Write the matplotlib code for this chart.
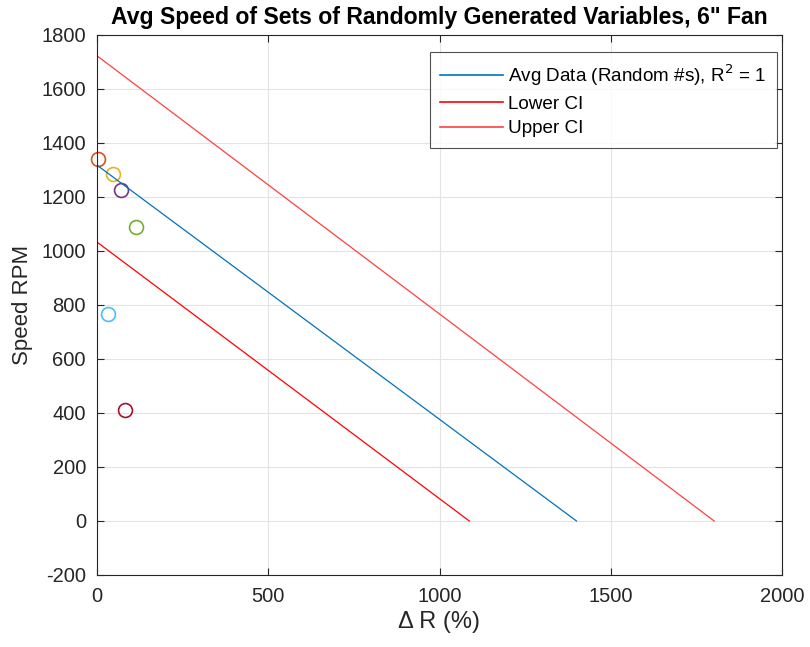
import numpy as np
import matplotlib.pyplot as plt

plt.rcParams['font.family'] = ['Liberation Sans', 'DejaVu Sans']
plt.rcParams['axes.unicode_minus'] = False

# fit lines (x at y=0, y at x=0)
avg_x = [0, 1400]
avg_y = [1318, 0]
lower_x = [0, 1087]
lower_y = [1033, 0]
upper_x = [0, 1802]
upper_y = [1723, 0]

# data points
pt_x = [2, 47, 70, 114, 31, 82]
pt_y = [1340, 1284, 1226, 1088, 766, 411]
pt_colors = ['#D95319', '#EDB120', '#7E2F8E', '#77AC30', '#4DBEEE', '#A2142F']

fig = plt.figure(figsize=(8.1, 6.47), dpi=100)
ax = fig.add_axes([97/810, 1 - 575/647, 685/810, 540/647])

for x, y, c in zip(pt_x, pt_y, pt_colors):
    ax.plot(x, y, 'o', mfc='none', mec=c, ms=10, mew=1.2, clip_on=False)

ax.plot(avg_x, avg_y, color='#0072BD', lw=0.9, label='Avg Data (Random #s), R$^2$ = 1')
ax.plot(lower_x, lower_y, color='#FF0000', lw=0.9, label='Lower CI')
ax.plot(upper_x, upper_y, color='#FF4040', lw=0.9, label='Upper CI')

ax.set_xlim(0, 2000)
ax.set_ylim(-200, 1800)
ax.set_xticks(np.arange(0, 2001, 500))
ax.set_yticks(np.arange(-200, 1801, 200))
ax.grid(True, color='#E3E3E3', lw=0.8)
ax.set_axisbelow(True)
ax.tick_params(direction='in', top=True, right=True, labelsize=14.5,
               colors='#262626', length=5)
ax.tick_params(axis='x', pad=9)
ax.tick_params(axis='y', pad=8)
for s in ax.spines.values():
    s.set_color('#262626')
    s.set_linewidth(0.8)

ax.set_xlabel('Δ R (%)', fontsize=17, color='#262626', labelpad=3)
ax.set_ylabel('Speed RPM', fontsize=16, color='#262626', labelpad=6)
ax.set_title('Avg Speed of Sets of Randomly Generated Variables, 6" Fan',
             fontsize=16.6, fontweight='bold', pad=8)

leg = ax.legend(loc='upper right', bbox_to_anchor=(680/685, 523/540),
                fontsize=13.6, frameon=True, fancybox=False,
                edgecolor='#262626', handlelength=3.3, handletextpad=0.3,
                borderpad=0.55, labelspacing=0.4, borderaxespad=0)
leg.get_frame().set_linewidth(0.8)
for h in leg.get_lines():
    h.set_linewidth(1.2)

fig.savefig('out.png', dpi=100)
